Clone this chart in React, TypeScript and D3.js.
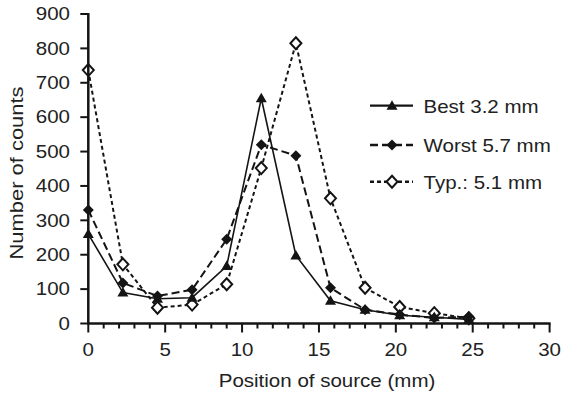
import React from 'react';
import * as d3 from 'd3';

// positions of the source (mm)
const positions = [0, 2.25, 4.5, 6.75, 9, 11.25, 13.5, 15.75, 18, 20.25, 22.5, 24.75];

const bestCounts = [260, 90, 72, 75, 167, 655, 198, 66, 40, 24, 18, 12];
const worstCounts = [330, 118, 80, 98, 245, 520, 488, 104, 40, 26, 16, 20];
const typCounts = [737, 172, 46, 55, 114, 452, 815, 364, 104, 48, 30, 15];

const xTicks = [0, 5, 10, 15, 20, 25, 30];
const yTicks = [0, 100, 200, 300, 400, 500, 600, 700, 800, 900];

const W = 561;
const H = 394;
const INK = '#141414';
const SX = 1.14; // the source figure is slightly stretched sideways

const x = d3.scaleLinear().domain([0, 30]).range([88.3, 549.6]);
const y = d3.scaleLinear().domain([0, 900]).range([323.5, 14]);

type Series = { name: string; values: number[]; dash: string; width: number; marker: 'tri' | 'dia' | 'odia' };

const series: Series[] = [
  { name: 'Typ.: 5.1 mm', values: typCounts, dash: '4,3', width: 2, marker: 'odia' },
  { name: 'Best 3.2 mm', values: bestCounts, dash: '', width: 1.6, marker: 'tri' },
  { name: 'Worst 5.7 mm', values: worstCounts, dash: '8,4', width: 2, marker: 'dia' },
];
const legendOrder = ['Best 3.2 mm', 'Worst 5.7 mm', 'Typ.: 5.1 mm'];

const Marker: React.FC<{ kind: Series['marker']; cx: number; cy: number }> = ({ kind, cx, cy }) => {
  if (kind === 'tri') {
    return <path d={`M${cx},${cy - 5.5}L${cx + 5.5},${cy + 4}L${cx - 5.5},${cy + 4}Z`} fill={INK} />;
  }
  if (kind === 'dia') {
    return <path d={`M${cx},${cy - 5.5}L${cx + 5.5},${cy}L${cx},${cy + 5.5}L${cx - 5.5},${cy}Z`} fill={INK} />;
  }
  return (
    <path
      d={`M${cx},${cy - 6}L${cx + 5.5},${cy}L${cx},${cy + 6}L${cx - 5.5},${cy}Z`}
      fill="#fff"
      stroke={INK}
      strokeWidth={2}
    />
  );
};

const Txt: React.FC<{ x: number; y: number; anchor?: string; size?: number; rotate?: number; sx?: number; children: React.ReactNode }> = ({
  x: tx, y: ty, anchor = 'start', size = 18, rotate = 0, sx = SX, children,
}) => (
  <text
    transform={`translate(${tx},${ty}) rotate(${rotate}) scale(${sx},1)`}
    textAnchor={anchor}
    fontSize={size}
    fontFamily="'Liberation Sans', Arial, sans-serif"
    fill="#222"
  >
    {children}
  </text>
);

export default function App() {
  const line = d3
    .line<number>()
    .x((_, i) => x(positions[i]))
    .y(d => y(d));

  const minorTicks = d3.range(0, 31, 1).filter(v => v % 5 !== 0);

  return (
    <svg width={W} height={H} style={{ position: 'absolute', left: 0, top: 0, background: '#fff' }}>
      {/* series */}
      {series.map(s => (
        <g key={s.name}>
          <path d={line(s.values) || ''} fill="none" stroke={INK} strokeWidth={s.width} strokeDasharray={s.dash || undefined} />
          {s.values.map((v, i) => (
            <Marker key={i} kind={s.marker} cx={x(positions[i])} cy={y(v)} />
          ))}
        </g>
      ))}

      {/* y axis */}
      <line x1={x(0)} x2={x(0)} y1={y(900) - 1} y2={y(0)} stroke={INK} strokeWidth={2.5} />
      {yTicks.map(t => (
        <g key={t}>
          <line x1={x(0) - 8} x2={x(0)} y1={y(t)} y2={y(t)} stroke={INK} strokeWidth={2} />
          <Txt x={70} y={y(t) + 6.3} anchor="end">{t}</Txt>
        </g>
      ))}

      {/* x axis */}
      <line x1={x(0) - 1} x2={x(30) + 1} y1={y(0)} y2={y(0)} stroke={INK} strokeWidth={2.5} />
      {minorTicks.map(t => (
        <line key={t} x1={x(t)} x2={x(t)} y1={y(0)} y2={y(0) + 5} stroke={INK} strokeWidth={2} />
      ))}
      {xTicks.map(t => (
        <g key={t}>
          <line x1={x(t)} x2={x(t)} y1={y(0)} y2={y(0) + 9} stroke={INK} strokeWidth={2} />
          <Txt x={x(t)} y={356} anchor="middle">{t}</Txt>
        </g>
      ))}

      {/* axis titles */}
      <Txt x={327} y={387} anchor="middle">Position of source (mm)</Txt>
      <Txt x={23} y={173} anchor="middle" rotate={-90} sx={1.22}>Number of counts</Txt>

      {/* legend */}
      {legendOrder.map((name, i) => {
        const s = series.find(d => d.name === name)!;
        const ly = [105.7, 145, 181.7][i];
        return (
          <g key={name}>
            <line x1={370} x2={413} y1={ly} y2={ly} stroke={INK} strokeWidth={s.width + 0.6} strokeDasharray={s.dash || undefined} />
            <Marker kind={s.marker} cx={392} cy={ly} />
            <Txt x={423.5} y={ly + 7}>{name}</Txt>
          </g>
        );
      })}
    </svg>
  );
}
